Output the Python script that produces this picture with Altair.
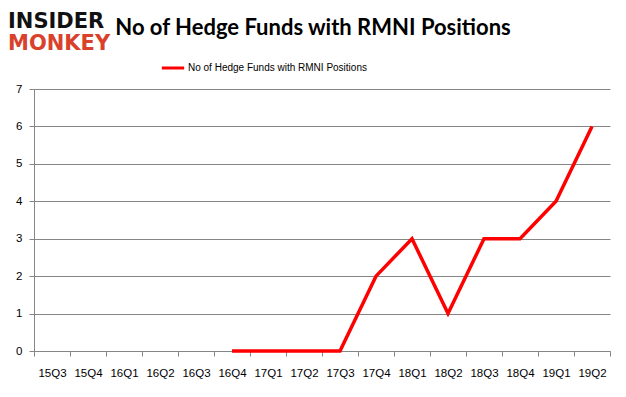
import altair as alt
import pandas as pd

quarters = ["15Q3", "15Q4", "16Q1", "16Q2", "16Q3", "16Q4", "17Q1", "17Q2",
            "17Q3", "17Q4", "18Q1", "18Q2", "18Q3", "18Q4", "19Q1", "19Q2"]
funds = [None, None, None, None, None, 0, 0, 0, 0, 2, 3, 1, 3, 3, 4, 6]
series_name = "No of Hedge Funds with RMNI Positions"
title_text = "No of Hedge Funds with RMNI Positions"
y_ticks = [0, 1, 2, 3, 4, 5, 6, 7]

df = pd.DataFrame({"quarter": quarters, "funds": funds, "series": [series_name] * len(quarters)})

GRID = "#868686"

line = alt.Chart(df).mark_line(strokeWidth=3.5, color="#ff0000").encode(
    x=alt.X("quarter:N", sort=quarters, bandPosition=0.5,
            scale=alt.Scale(type="band", domain=quarters, paddingInner=0, paddingOuter=0),
            axis=alt.Axis(title=None, labelAngle=0, tickBand="extent", grid=False,
                          domainColor=GRID, tickColor=GRID, tickSize=5,
                          labelPadding=11, labelFontSize=11.5, labelFont="Liberation Sans",
                          labelColor="#000000")),
    y=alt.Y("funds:Q", scale=alt.Scale(domain=[0, 7], nice=False, zero=True),
            axis=alt.Axis(title=None, values=y_ticks, grid=True, gridColor=GRID,
                          domainColor=GRID, tickColor=GRID, tickSize=5,
                          labelPadding=7, labelFontSize=11.5, labelFont="Liberation Sans",
                          labelColor="#000000")),
    color=alt.Color("series:N", scale=alt.Scale(range=["#ff0000"]),
                    legend=alt.Legend(title=None, orient="none", legendX=126, legendY=-34,
                                      symbolType="stroke", symbolStrokeWidth=3, symbolSize=500,
                                      labelFontSize=10, labelFont="Liberation Sans",
                                      labelOffset=2, labelLimit=0, labelColor="#000000")),
)

one = alt.Data(values=[{}])
logo1 = alt.Chart(one).mark_text(text="INSIDER", align="left", baseline="alphabetic",
                                 font="DejaVu Sans", fontWeight="bold", fontSize=21,
                                 color="#111111").encode(x=alt.value(-26), y=alt.value(-61))
logo2 = alt.Chart(one).mark_text(text="MONKEY", align="left", baseline="alphabetic",
                                 font="DejaVu Sans", fontWeight="bold", fontSize=21,
                                 color="#d9412b").encode(x=alt.value(-26), y=alt.value(-39))
title = alt.Chart(one).mark_text(text=title_text, align="center", baseline="alphabetic",
                                 font="Lato", fontWeight="bold", fontSize=22,
                                 color="#000000").encode(x=alt.value(279), y=alt.value(-54))

chart = alt.layer(line, logo1, logo2, title).properties(
    width=576, height=262,
    padding={"left": 26, "top": 81, "right": 8, "bottom": 38},
    autosize=alt.AutoSizeParams(type="none"),
).configure_view(stroke=None)

chart.save("out.html", embed_options={"renderer": "svg", "actions": False})
